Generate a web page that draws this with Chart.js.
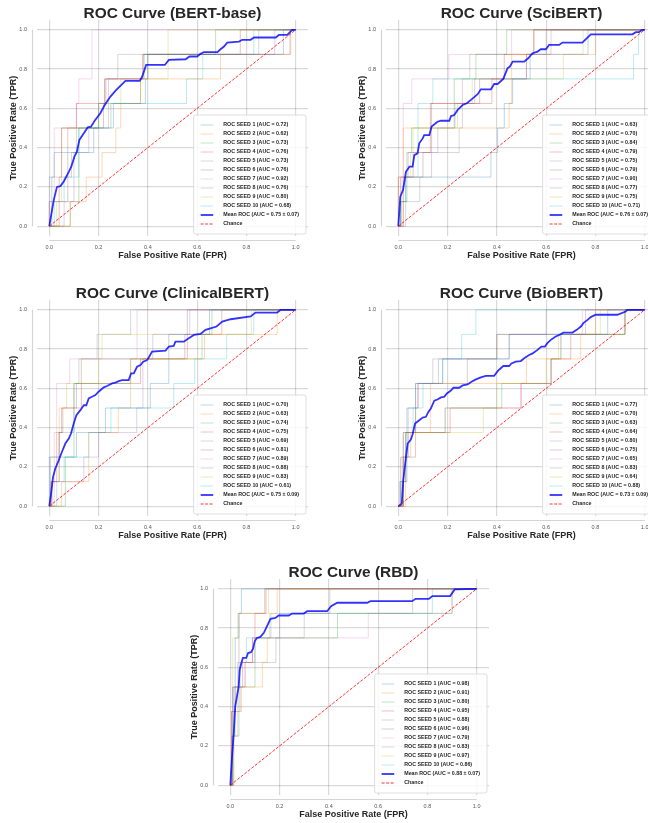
<!DOCTYPE html>
<html>
<head>
<meta charset="utf-8">
<title>ROC Curves</title>
<script src="https://cdn.jsdelivr.net/npm/chart.js@4.4.1/dist/chart.umd.min.js"></script>
<style>
  html, body { margin: 0; padding: 0; background: #fff; overflow: hidden; }
  #figure { position: relative; width: 648px; height: 823px; overflow: hidden; }
  #figure canvas { position: absolute; }
</style>
</head>
<body>
<div id="figure">
  <canvas id="rocBert" width="326" height="270" style="left:0px;top:0px"></canvas>
  <canvas id="rocSci" width="326" height="270" style="left:349px;top:0px"></canvas>
  <canvas id="rocClin" width="326" height="270" style="left:0px;top:280px"></canvas>
  <canvas id="rocBio" width="326" height="270" style="left:349px;top:280px"></canvas>
  <canvas id="rocRbd" width="326" height="270" style="left:181px;top:559px"></canvas>
</div>
<script>
// ROC curves per model: 10 seeds (step curves) + mean ROC + chance line

const tickValues = [0, 0.2, 0.4, 0.6, 0.8, 1.0];
const seedColors = ['#1f77b4', '#ff7f0e', '#2ca02c', '#d62728', '#9467bd',
                    '#8c564b', '#e377c2', '#7f7f7f', '#bcbd22', '#17becf'];

// each seed curve: [fpr where the curve rises, tpr after the rise]
const bertSeedAuc = [0.72, 0.62, 0.73, 0.76, 0.73, 0.76, 0.92, 0.76, 0.80, 0.68];
const bertMeanAuc = '0.75 ± 0.07';
const bertSeeds = [
  [[0,0],[0.01,0.25],[0.02,0.375],[0.18,0.5],[0.26,0.625],[0.39,0.75],[0.40,0.875],[0.95,1],[1,1]],
  [[0,0],[0.085,0.125],[0.15,0.25],[0.214,0.375],[0.27,0.5],[0.29,0.625],[0.37,0.75],[0.695,0.875],[0.98,1],[1,1]],
  [[0,0],[0.085,0.125],[0.12,0.5],[0.25,0.625],[0.37,0.75],[0.385,0.875],[0.675,1],[1,1]],
  [[0,0],[0.04,0.25],[0.05,0.5],[0.11,0.625],[0.225,0.75],[0.38,0.875],[0.775,1],[1,1]],
  [[0,0],[0.06,0.125],[0.1,0.375],[0.16,0.5],[0.24,0.75],[0.4,0.875],[0.915,1],[1,1]],
  [[0,0],[0,0.125],[0.075,0.25],[0.075,0.5],[0.22,0.625],[0.225,0.75],[0.38,0.875],[0.977,1],[1,1]],
  [[0,0],[0,0.125],[0.02,0.5],[0.11,0.625],[0.12,0.75],[0.173,1],[1,1]],
  [[0,0],[0,0.25],[0.09,0.375],[0.11,0.5],[0.2,0.625],[0.23,0.75],[0.278,0.875],[0.85,1],[1,1]],
  [[0,0],[0.03,0.125],[0.05,0.5],[0.2,0.625],[0.29,0.75],[0.482,1],[1,1]],
  [[0,0],[0.02,0.125],[0.06,0.25],[0.12,0.5],[0.2,0.625],[0.557,0.75],[0.623,0.875],[0.83,1],[1,1]]
];
const bertMean = [
  [0,0],[0.011,0.082],[0.018,0.133],[0.031,0.2],[0.045,0.204],[0.058,0.226],[0.065,0.243],
  [0.079,0.277],[0.089,0.303],[0.102,0.354],[0.112,0.379],[0.122,0.439],[0.14,0.473],
  [0.156,0.503],[0.169,0.507],[0.184,0.537],[0.207,0.575],[0.225,0.617],[0.248,0.66],
  [0.272,0.694],[0.309,0.74],[0.367,0.74],[0.377,0.762],[0.393,0.821],[0.469,0.821],
  [0.485,0.847],[0.553,0.85],[0.569,0.864],[0.6,0.864],[0.614,0.878],[0.627,0.886],
  [0.682,0.886],[0.695,0.901],[0.709,0.915],[0.722,0.935],[0.77,0.94],[0.783,0.949],
  [0.817,0.949],[0.831,0.961],[0.919,0.961],[0.932,0.974],[0.966,0.974],[0.986,1],[1,1]
];

const sciSeedAuc = [0.63, 0.70, 0.84, 0.79, 0.75, 0.79, 0.90, 0.77, 0.75, 0.71];
const sciMeanAuc = '0.76 ± 0.07';
const sciSeeds = [
  [[0,0],[0.01,0.125],[0.03,0.25],[0.376,0.375],[0.403,0.5],[0.43,0.625],[0.464,0.75],[0.535,0.875],[0.77,1],[1,1]],
  [[0,0],[0,0.25],[0.02,0.5],[0.45,0.625],[0.46,0.875],[0.8,1],[1,1]],
  [[0,0],[0.01,0.125],[0.035,0.375],[0.054,0.5],[0.227,0.75],[0.315,0.875],[0.44,1],[1,1]],
  [[0,0],[0.02,0.25],[0.06,0.375],[0.13,0.625],[0.38,0.75],[0.43,0.875],[0.55,1],[1,1]],
  [[0,0],[0.01,0.25],[0.04,0.375],[0.16,0.5],[0.23,0.625],[0.31,0.75],[0.52,0.875],[0.62,1],[1,1]],
  [[0,0],[0,0.25],[0.1,0.375],[0.135,0.625],[0.33,0.75],[0.52,0.875],[0.55,1],[1,1]],
  [[0,0],[0.01,0.25],[0.02,0.625],[0.055,0.75],[0.205,0.875],[0.46,1],[1,1]],
  [[0,0],[0.03,0.125],[0.087,0.25],[0.135,0.375],[0.247,0.5],[0.26,0.75],[0.29,0.875],[0.6,1],[1,1]],
  [[0,0],[0.02,0.25],[0.05,0.375],[0.06,0.5],[0.24,0.625],[0.3,0.75],[0.67,0.875],[0.75,1],[1,1]],
  [[0,0],[0.01,0.125],[0.03,0.25],[0.08,0.625],[0.14,0.75],[0.955,0.875],[0.975,1],[1,1]]
];
const sciMean = [
  [0,0],[0.008,0.15],[0.019,0.184],[0.031,0.277],[0.045,0.303],[0.058,0.303],[0.065,0.362],
  [0.078,0.371],[0.085,0.422],[0.099,0.447],[0.105,0.464],[0.126,0.464],[0.135,0.507],
  [0.159,0.532],[0.173,0.537],[0.207,0.537],[0.214,0.561],[0.227,0.566],[0.241,0.592],
  [0.261,0.617],[0.278,0.626],[0.295,0.643],[0.322,0.672],[0.335,0.697],[0.376,0.697],
  [0.389,0.724],[0.403,0.724],[0.426,0.75],[0.443,0.804],[0.453,0.813],[0.464,0.838],
  [0.511,0.838],[0.527,0.855],[0.545,0.881],[0.565,0.889],[0.578,0.901],[0.599,0.901],
  [0.612,0.923],[0.653,0.923],[0.666,0.935],[0.747,0.935],[0.781,0.977],[0.95,0.977],
  [0.964,0.988],[0.977,0.988],[0.99,1],[1,1]
];

const clinSeedAuc = [0.70, 0.63, 0.74, 0.75, 0.69, 0.81, 0.89, 0.88, 0.83, 0.61];
const clinMeanAuc = '0.75 ± 0.09';
const clinSeeds = [
  [[0,0],[0,0.25],[0.11,0.375],[0.228,0.5],[0.41,0.625],[0.485,0.875],[0.65,1],[1,1]],
  [[0,0],[0.05,0.125],[0.16,0.375],[0.28,0.5],[0.33,0.75],[0.63,0.875],[0.925,1],[1,1]],
  [[0,0],[0.065,0.25],[0.1,0.625],[0.33,0.75],[0.62,0.875],[0.66,1],[1,1]],
  [[0,0],[0.01,0.125],[0.03,0.375],[0.05,0.5],[0.13,0.625],[0.37,0.75],[0.56,0.875],[0.7,1],[1,1]],
  [[0,0],[0.01,0.125],[0.14,0.25],[0.2,0.375],[0.355,0.5],[0.38,0.75],[0.42,0.875],[0.57,1],[1,1]],
  [[0,0],[0.005,0.125],[0.04,0.375],[0.055,0.5],[0.11,0.625],[0.13,0.75],[0.55,0.875],[0.56,1],[1,1]],
  [[0,0],[0.02,0.375],[0.03,0.625],[0.083,0.75],[0.356,1],[1,1]],
  [[0,0],[0.005,0.25],[0.04,0.375],[0.1,0.625],[0.12,0.75],[0.194,0.875],[0.33,1],[1,1]],
  [[0,0],[0.01,0.125],[0.04,0.5],[0.07,0.625],[0.2,0.75],[0.214,0.875],[0.82,1],[1,1]],
  [[0,0],[0.03,0.125],[0.06,0.25],[0.16,0.375],[0.25,0.5],[0.505,0.625],[0.59,0.75],[0.72,0.875],[0.83,1],[1,1]]
];
const clinMean = [
  [0,0],[0.007,0.063],[0.015,0.148],[0.024,0.191],[0.038,0.233],[0.051,0.276],[0.065,0.319],
  [0.079,0.344],[0.088,0.37],[0.099,0.421],[0.11,0.463],[0.126,0.489],[0.14,0.514],
  [0.15,0.514],[0.16,0.549],[0.173,0.557],[0.187,0.566],[0.2,0.583],[0.221,0.605],
  [0.234,0.612],[0.255,0.625],[0.268,0.629],[0.282,0.637],[0.295,0.642],[0.322,0.642],
  [0.332,0.676],[0.343,0.676],[0.356,0.71],[0.37,0.719],[0.381,0.736],[0.397,0.744],
  [0.407,0.765],[0.417,0.787],[0.472,0.792],[0.485,0.813],[0.505,0.816],[0.512,0.838],
  [0.546,0.838],[0.566,0.855],[0.587,0.872],[0.614,0.877],[0.634,0.898],[0.654,0.906],
  [0.679,0.915],[0.702,0.94],[0.736,0.952],[0.817,0.966],[0.837,0.986],[0.925,0.986],
  [0.939,1],[1,1]
];

const bioSeedAuc = [0.77, 0.70, 0.63, 0.64, 0.80, 0.75, 0.65, 0.83, 0.64, 0.88];
const bioMeanAuc = '0.73 ± 0.09';
const bioSeeds = [
  [[0,0],[0.01,0.125],[0.035,0.5],[0.07,0.625],[0.18,0.75],[0.45,0.875],[0.85,1],[1,1]],
  [[0,0],[0.03,0.25],[0.05,0.375],[0.13,0.625],[0.52,0.75],[0.74,0.875],[0.8,1],[1,1]],
  [[0,0],[0.02,0.125],[0.03,0.375],[0.19,0.5],[0.42,0.625],[0.62,0.75],[0.66,0.875],[0.92,1],[1,1]],
  [[0,0],[0.02,0.375],[0.21,0.5],[0.497,0.625],[0.62,0.75],[0.7,0.875],[0.92,1],[1,1]],
  [[0,0],[0.01,0.25],[0.04,0.5],[0.08,0.625],[0.163,0.75],[0.45,0.875],[0.76,1],[1,1]],
  [[0,0],[0.02,0.25],[0.07,0.5],[0.08,0.625],[0.28,0.75],[0.4,0.875],[0.92,1],[1,1]],
  [[0,0],[0.02,0.25],[0.04,0.375],[0.19,0.5],[0.5,0.625],[0.62,0.75],[0.66,0.875],[0.747,1],[1,1]],
  [[0,0],[0.005,0.125],[0.03,0.375],[0.07,0.625],[0.14,0.75],[0.4,0.875],[0.6,1],[1,1]],
  [[0,0],[0.01,0.25],[0.03,0.375],[0.345,0.5],[0.4,0.625],[0.6,0.75],[0.65,0.875],[0.82,1],[1,1]],
  [[0,0],[0.01,0.125],[0.02,0.375],[0.06,0.5],[0.1,0.625],[0.18,0.75],[0.257,0.875],[0.315,1],[1,1]]
];
const bioMean = [
  [0,0],[0.014,0.012],[0.02,0.131],[0.031,0.25],[0.038,0.319],[0.051,0.339],[0.058,0.366],
  [0.068,0.421],[0.085,0.438],[0.099,0.451],[0.112,0.455],[0.122,0.48],[0.132,0.497],
  [0.146,0.537],[0.159,0.543],[0.173,0.554],[0.186,0.557],[0.197,0.574],[0.211,0.586],
  [0.224,0.603],[0.247,0.603],[0.261,0.615],[0.281,0.62],[0.297,0.634],[0.315,0.646],
  [0.335,0.656],[0.355,0.664],[0.389,0.664],[0.405,0.69],[0.426,0.714],[0.45,0.714],
  [0.459,0.727],[0.477,0.736],[0.497,0.739],[0.511,0.753],[0.531,0.77],[0.545,0.778],
  [0.565,0.796],[0.581,0.813],[0.595,0.813],[0.605,0.83],[0.619,0.847],[0.639,0.864],
  [0.653,0.872],[0.67,0.884],[0.707,0.884],[0.724,0.898],[0.741,0.915],[0.751,0.932],
  [0.768,0.949],[0.781,0.963],[0.801,0.975],[0.889,0.975],[0.923,0.991],[0.93,1],[1,1]
];

const rbdSeedAuc = [0.98, 0.91, 0.80, 0.95, 0.88, 0.96, 0.79, 0.83, 0.97, 0.86];
const rbdMeanAuc = '0.88 ± 0.07';
const rbdSeeds = [
  [[0,0],[0.01,0.5],[0.02,0.75],[0.035,0.875],[0.045,1],[1,1]],
  [[0,0],[0.015,0.375],[0.045,0.5],[0.13,0.625],[0.15,0.75],[0.16,0.875],[0.19,1],[1,1]],
  [[0,0],[0.01,0.25],[0.035,0.5],[0.1,0.75],[0.435,0.875],[0.9,1],[1,1]],
  [[0,0],[0.005,0.375],[0.02,0.5],[0.05,0.625],[0.09,0.75],[0.1,0.875],[0.14,1],[1,1]],
  [[0,0],[0.005,0.25],[0.015,0.5],[0.03,0.625],[0.1,0.75],[0.2,0.875],[0.404,1],[1,1]],
  [[0,0],[0.005,0.375],[0.01,0.5],[0.035,0.875],[0.145,1],[1,1]],
  [[0,0],[0.01,0.25],[0.03,0.5],[0.06,0.625],[0.09,0.75],[0.56,0.875],[0.9,1],[1,1]],
  [[0,0],[0.01,0.375],[0.04,0.5],[0.06,0.625],[0.185,0.75],[0.3,0.875],[0.74,1],[1,1]],
  [[0,0],[0.01,0.75],[0.03,0.875],[0.155,1],[1,1]],
  [[0,0],[0.01,0.25],[0.02,0.5],[0.04,0.625],[0.065,0.75],[0.165,0.875],[0.82,1],[1,1]]
];
const rbdMean = [
  [0,0],[0.007,0.146],[0.014,0.265],[0.02,0.401],[0.027,0.452],[0.034,0.503],[0.038,0.588],
  [0.045,0.622],[0.051,0.648],[0.065,0.648],[0.072,0.673],[0.084,0.677],[0.092,0.694],
  [0.099,0.733],[0.108,0.75],[0.122,0.755],[0.136,0.776],[0.149,0.81],[0.163,0.847],
  [0.183,0.852],[0.196,0.864],[0.237,0.864],[0.251,0.874],[0.298,0.874],[0.312,0.886],
  [0.393,0.886],[0.409,0.912],[0.434,0.929],[0.556,0.929],[0.569,0.937],[0.738,0.937],
  [0.752,0.949],[0.806,0.949],[0.82,0.963],[0.892,0.963],[0.911,0.997],[1,1]
];

const FONT = '"Liberation Sans", Arial, Helvetica, sans-serif';
const TEXT = '#262626';

const hexAlpha = (hex, a) => {
  const n = parseInt(hex.slice(1), 16);
  return `rgba(${(n >> 16) & 255}, ${(n >> 8) & 255}, ${n & 255}, ${a})`;
};
const toXY = pts => pts.map(([x, y]) => ({ x, y }));

// title, in-axes legend (lower right) and the offset, trimmed spines
const panelDecor = {
  id: 'panelDecor',
  afterDraw(chart, args, opts) {
    const { ctx, chartArea: a, scales: { x, y } } = chart;
    ctx.save();

    ctx.strokeStyle = '#d4d4d4';
    ctx.lineWidth = 1.2;
    ctx.beginPath();
    ctx.moveTo(x.getPixelForValue(0), a.bottom + 4.5);
    ctx.lineTo(x.getPixelForValue(1), a.bottom + 4.5);
    ctx.moveTo(a.left - 4.5, y.getPixelForValue(0));
    ctx.lineTo(a.left - 4.5, y.getPixelForValue(1));
    ctx.stroke();

    ctx.fillStyle = TEXT;
    ctx.font = `bold 15.4px ${FONT}`;
    ctx.textAlign = 'center';
    ctx.textBaseline = 'alphabetic';
    ctx.fillText(opts.title, (a.left + a.right) / 2, 18.3);

    // legend
    const items = chart.data.datasets;
    ctx.font = `bold 5.3px ${FONT}`;
    const textW = Math.max(...items.map(d => ctx.measureText(d.label).width));
    const rowH = 9, padX = 7, handleW = 12.6, gap = 10;
    const boxW = padX + handleW + gap + textW + padX;
    const boxH = 11 + rowH * items.length;
    const right = a.right - 2, bottom = a.bottom - 2;
    const left = right - boxW, top = bottom - boxH;

    ctx.beginPath();
    ctx.roundRect(left, top, boxW, boxH, 2);
    ctx.fillStyle = 'rgba(255,255,255,0.85)';
    ctx.fill();
    ctx.strokeStyle = '#d6d6d6';
    ctx.lineWidth = 0.8;
    ctx.stroke();

    items.forEach((d, i) => {
      const cy = top + 10 + rowH * i;
      ctx.beginPath();
      ctx.strokeStyle = d.borderColor;
      ctx.lineWidth = d.borderWidth;
      ctx.setLineDash(d.borderDash || []);
      ctx.moveTo(left + padX, cy);
      ctx.lineTo(left + padX + handleW, cy);
      ctx.stroke();
      ctx.setLineDash([]);
      ctx.fillStyle = TEXT;
      ctx.textAlign = 'left';
      ctx.textBaseline = 'middle';
      ctx.fillText(d.label, left + padX + handleW + gap, cy);
    });
    ctx.restore();
  }
};

const axisOptions = (titleText, isX) => ({
  type: 'linear',
  min: -0.05,
  max: 1.05,
  afterBuildTicks: s => { s.ticks = tickValues.map(v => ({ value: v })); },
  afterFit: s => { if (isX) s.height = 34; else s.width = 37; },
  grid: { color: 'rgba(0,0,0,0.15)', lineWidth: 1.2, drawTicks: false },
  border: { display: false },
  ticks: {
    padding: isX ? 8 : 10,
    autoSkip: false,
    maxRotation: 0,
    color: '#555',
    font: { family: FONT, size: 5.5 },
    callback: v => Number(v).toFixed(1)
  },
  title: {
    display: true,
    text: titleText,
    color: TEXT,
    font: { family: FONT, size: 9, weight: 'bold' },
    padding: isX ? { top: 0, bottom: 9 } : { top: 8, bottom: 0 }
  }
});

function drawRocPanel(canvasId, title, seeds, seedAuc, mean, meanAuc) {
  const datasets = seeds.map((pts, i) => ({
    label: `ROC SEED ${i + 1} (AUC = ${seedAuc[i].toFixed(2)})`,
    data: toXY(pts),
    borderColor: hexAlpha(seedColors[i], 0.3),
    borderWidth: 1,
    stepped: 'before',
    order: 2
  }));
  datasets.push({
    label: `Mean ROC (AUC = ${meanAuc})`,
    data: toXY(mean),
    borderColor: 'rgba(0,0,255,0.8)',
    borderWidth: 1.8,
    order: 1
  });
  datasets.push({
    label: 'Chance',
    data: [{ x: 0, y: 0 }, { x: 1, y: 1 }],
    borderColor: 'rgba(255,0,0,0.8)',
    borderWidth: 1,
    borderDash: [3, 1.5],
    order: 0
  });

  new Chart(document.getElementById(canvasId), {
    type: 'line',
    data: { datasets },
    options: {
      responsive: false,
      animation: false,
      events: [],
      layout: { padding: { left: 0, top: 20, right: 18, bottom: 0 } },
      elements: { point: { radius: 0 }, line: { tension: 0, fill: false } },
      scales: {
        x: axisOptions('False Positive Rate (FPR)', true),
        y: axisOptions('True Positive Rate (TPR)', false)
      },
      plugins: {
        legend: { display: false },
        tooltip: { enabled: false },
        panelDecor: { title }
      }
    },
    plugins: [panelDecor]
  });
}

drawRocPanel('rocBert', 'ROC Curve (BERT-base)', bertSeeds, bertSeedAuc, bertMean, bertMeanAuc);
drawRocPanel('rocSci', 'ROC Curve (SciBERT)', sciSeeds, sciSeedAuc, sciMean, sciMeanAuc);
drawRocPanel('rocClin', 'ROC Curve (ClinicalBERT)', clinSeeds, clinSeedAuc, clinMean, clinMeanAuc);
drawRocPanel('rocBio', 'ROC Curve (BioBERT)', bioSeeds, bioSeedAuc, bioMean, bioMeanAuc);
drawRocPanel('rocRbd', 'ROC Curve (RBD)', rbdSeeds, rbdSeedAuc, rbdMean, rbdMeanAuc);
</script>
</body>
</html>
